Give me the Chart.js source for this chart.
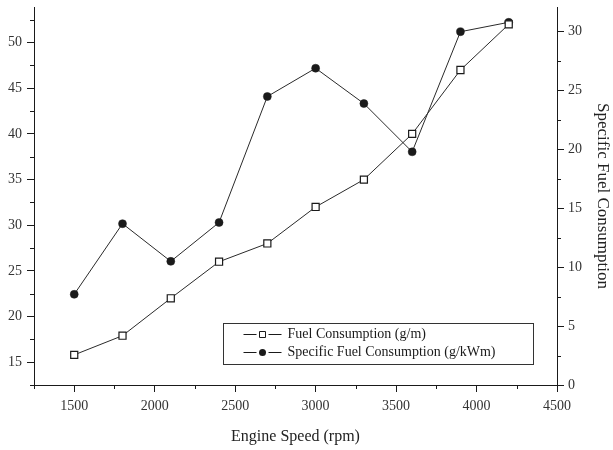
<!DOCTYPE html>
<html>
<head>
<meta charset="utf-8">
<script src="https://cdn.jsdelivr.net/npm/chart.js@4.4.0/dist/chart.umd.min.js"></script>
<style>
  html, body { margin: 0; padding: 0; background: #fff; }
  #wrap { width: 613px; height: 450px; }
</style>
</head>
<body>
<div id="wrap"><canvas id="engineChart"></canvas></div>
<script>
const engineSpeed = [1500, 1800, 2100, 2400, 2700, 3000, 3300, 3600, 3900, 4200];
const fuelConsumption = [15.8, 17.9, 22, 26, 28, 32, 35, 40, 47, 52];
const specificFuelConsumption = [7.7, 13.7, 10.5, 13.8, 24.5, 26.9, 23.9, 19.8, 30.0, 30.8];
const seriesLabels = ["Fuel Consumption (g/m)", "Specific Fuel Consumption (g/kWm)"];
const xTitle = "Engine Speed (rpm)";
const y2Title = "Specific Fuel Consumption";

const majorStep = { x: 500, y: 5, y2: 5 };
const ink = "#1a1a1a";
const serif = "'Liberation Serif', 'DejaVu Serif', serif";

function isMajor(axis, v) {
  const r = v / majorStep[axis];
  return Math.abs(r - Math.round(r)) < 1e-6;
}

function toPoints(values) {
  return engineSpeed.map((s, i) => ({ x: s, y: values[i] }));
}

// short ticks between the labelled ones
const minorTicks = {
  id: "minorTicks",
  afterDraw(chart) {
    const ctx = chart.ctx;
    ctx.save();
    ctx.strokeStyle = ink;
    ctx.lineWidth = 1;
    ["x", "y", "y2"].forEach((id) => {
      const scale = chart.scales[id];
      scale.ticks.forEach((t) => {
        if (isMajor(id, t.value)) return;
        const p = Math.round(scale.getPixelForValue(t.value)) + 0.5;
        ctx.beginPath();
        if (id === "x") {
          ctx.moveTo(p, scale.top);
          ctx.lineTo(p, scale.top + 4);
        } else if (id === "y") {
          ctx.moveTo(scale.right, p);
          ctx.lineTo(scale.right - 4, p);
        } else {
          ctx.moveTo(scale.left, p);
          ctx.lineTo(scale.left + 4, p);
        }
        ctx.stroke();
      });
    });
    ctx.restore();
  },
};

// boxed legend sitting inside the plot, lower right
const boxLegend = {
  id: "boxLegend",
  afterDraw(chart) {
    const ctx = chart.ctx;
    const area = chart.chartArea;
    const w = 310, h = 41;
    const left = Math.round(area.right - 24 - w) + 0.5;
    const top = Math.round(area.bottom - 21 - h) + 0.5;
    ctx.save();
    ctx.fillStyle = "#fff";
    ctx.fillRect(left, top, w, h);
    ctx.strokeStyle = "#333";
    ctx.lineWidth = 1;
    ctx.strokeRect(left, top, w, h);
    ctx.font = "14px " + serif;
    ctx.textBaseline = "middle";
    chart.data.datasets.forEach((ds, i) => {
      const y = top + 11 + i * 18;
      const x0 = left + 20;
      ctx.strokeStyle = ink;
      ctx.beginPath();
      ctx.moveTo(x0, y);
      ctx.lineTo(x0 + 13, y);
      ctx.moveTo(x0 + 25, y);
      ctx.lineTo(x0 + 38, y);
      ctx.stroke();
      const mx = x0 + 19;
      ctx.beginPath();
      if (ds.pointStyle === "rect") {
        ctx.fillStyle = "#fff";
        ctx.rect(mx - 3, y - 3, 6, 6);
        ctx.fill();
        ctx.stroke();
      } else {
        ctx.fillStyle = ink;
        ctx.arc(mx, y, 3.5, 0, Math.PI * 2);
        ctx.fill();
      }
      ctx.fillStyle = ink;
      ctx.fillText(ds.label, x0 + 44, y);
    });
    ctx.restore();
  },
};

function axisGrid(id) {
  return {
    drawOnChartArea: false,
    drawTicks: true,
    tickLength: 7,
    color: (c) => (c.tick && isMajor(id, c.tick.value) ? ink : "rgba(0,0,0,0)"),
  };
}

function fitY(width) {
  return (scale) => {
    scale.width = width;
    scale.paddingTop = 0;
    scale.paddingBottom = 0;
  };
}

const ctx = document.getElementById("engineChart").getContext("2d");
const engineChart = new Chart(ctx, {
  type: "line",
  data: {
    datasets: [
      {
        label: seriesLabels[0],
        data: toPoints(fuelConsumption),
        yAxisID: "y",
        borderColor: "#2a2a2a",
        borderWidth: 1,
        pointStyle: "rect",
        pointRadius: 5,
        pointBackgroundColor: "#fff",
        pointBorderColor: ink,
        pointBorderWidth: 1.2,
        tension: 0,
      },
      {
        label: seriesLabels[1],
        data: toPoints(specificFuelConsumption),
        yAxisID: "y2",
        borderColor: "#2a2a2a",
        borderWidth: 1,
        pointStyle: "circle",
        pointRadius: 4,
        pointBackgroundColor: ink,
        pointBorderColor: ink,
        pointBorderWidth: 0.5,
        tension: 0,
      },
    ],
  },
  options: {
    responsive: true,
    maintainAspectRatio: false,
    animation: false,
    layout: { padding: { top: 7, left: 0, right: 0, bottom: 0 } },
    scales: {
      x: {
        type: "linear",
        min: 1250,
        max: 4500,
        border: { color: ink, width: 1 },
        grid: axisGrid("x"),
        ticks: {
          stepSize: 250,
          includeBounds: false,
          autoSkip: false,
          maxRotation: 0,
          padding: 6,
          color: "#333",
          font: { family: serif, size: 14 },
          callback: (v) => (isMajor("x", v) ? String(v) : ""),
        },
        title: {
          display: true,
          text: xTitle,
          color: "#222",
          font: { family: serif, size: 16 },
          padding: { top: 0, bottom: 4 },
        },
        afterFit: (scale) => { scale.height = 65; },
      },
      y: {
        type: "linear",
        position: "left",
        min: 12.5,
        max: 53.9,
        border: { color: ink, width: 1 },
        grid: axisGrid("y"),
        ticks: {
          stepSize: 2.5,
          includeBounds: false,
          autoSkip: false,
          padding: 5,
          color: "#333",
          font: { family: serif, size: 14 },
          callback: (v) => (isMajor("y", v) ? String(v) : ""),
        },
        afterFit: fitY(34),
      },
      y2: {
        type: "linear",
        position: "right",
        min: 0,
        max: 32.1,
        border: { color: ink, width: 1 },
        grid: axisGrid("y2"),
        ticks: {
          stepSize: 2.5,
          includeBounds: false,
          autoSkip: false,
          padding: 4,
          color: "#333",
          font: { family: serif, size: 14 },
          callback: (v) => (isMajor("y2", v) ? String(v) : ""),
        },
        title: {
          display: true,
          text: y2Title,
          color: "#222",
          font: { family: serif, size: 17 },
          padding: { top: 0, bottom: 0 },
        },
        afterFit: fitY(56),
      },
    },
    plugins: {
      legend: { display: false },
      tooltip: { enabled: false },
    },
    devicePixelRatio: 1,
  },
  plugins: [minorTicks, boxLegend],
});
</script>
</body>
</html>
